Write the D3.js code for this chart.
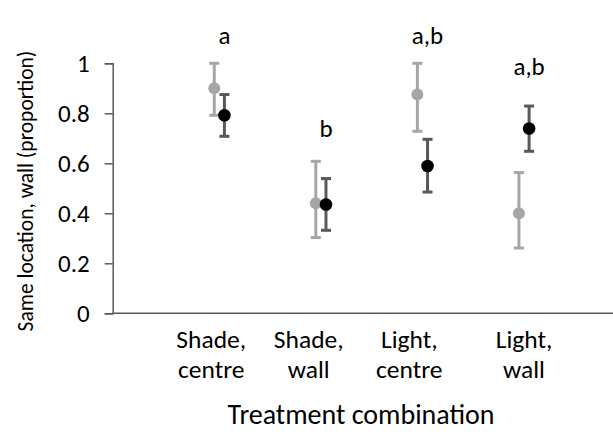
<!DOCTYPE html>
<html>
<head>
  <meta charset="utf-8">
  <script src="https://d3js.org/d3.v7.min.js"></script>
  <style type="text/css">
    body { margin: 0; background: #fff; }
    svg text {
      font-family: Calibri, Carlito, Lato, sans-serif;
      fill: #000;
    }
  </style>
</head>
<body>
  <script type="text/javascript">
    // Data
    var categories = ["Shade, centre", "Shade, wall", "Light, centre", "Light, wall"];
    var catPos = [1, 2, 3, 4];
    var labelPos = [0.97, 1.93, 2.92, 4.05];

    var greyMean  = [0.90, 0.44, 0.875, 0.40];
    var greyUpper = [1.00, 0.608, 1.00, 0.563];
    var greyLower = [0.792, 0.303, 0.728, 0.261];

    var blackMean  = [0.792, 0.435, 0.589, 0.739];
    var blackUpper = [0.875, 0.539, 0.696, 0.829];
    var blackLower = [0.708, 0.332, 0.485, 0.648];

    var letters = ["a", "b", "a,b", "a,b"];
    var letterY = [1.076, 0.704, 1.076, 0.952];

    var yTicks = [0, 0.2, 0.4, 0.6, 0.8, 1];

    var width = 613, height = 432;
    var axisColor = "#595959";

    var svg = d3.select("body").append("svg")
        .attr("width", width)
        .attr("height", height);

    var x = d3.scaleLinear().domain([0, 5]).range([112.7, 620.5]);
    var y = d3.scaleLinear().domain([0, 1]).range([313.3, 63.3]);

    // y axis
    var yAxis = d3.axisLeft(y)
        .tickValues(yTicks)
        .tickSize(8)
        .tickPadding(15)
        .tickFormat(function(d) { return d3.format("")(+d.toFixed(1)); });

    var gy = svg.append("g")
        .attr("transform", "translate(" + x(0) + ",0)")
        .call(yAxis);
    gy.select(".domain").attr("stroke", axisColor).attr("stroke-width", 1.5);
    gy.selectAll(".tick line").attr("stroke", axisColor).attr("stroke-width", 1.5);
    gy.selectAll(".tick text")
        .attr("font-size", "25px")
        .style("font-family", "Calibri, Carlito, Lato, sans-serif")
        .attr("fill", "#000");

    // x axis line
    svg.append("line")
        .attr("x1", x(0)).attr("x2", x(5))
        .attr("y1", y(0)).attr("y2", y(0))
        .attr("stroke", axisColor)
        .attr("stroke-width", 1.5);

    // category labels (two lines)
    categories.forEach(function(c, i) {
      var parts = c.split(" ");
      var t = svg.append("text")
          .attr("text-anchor", "middle")
          .attr("font-size", "25.5px");
      t.append("tspan").attr("x", x(labelPos[i])).attr("y", 348).text(parts[0]);
      t.append("tspan").attr("x", x(labelPos[i])).attr("y", 377.7).text(parts[1]);
    });

    // axis titles
    svg.append("text")
        .attr("text-anchor", "middle")
        .attr("x", 361).attr("y", 424)
        .attr("font-size", "28px")
        .text("Treatment combination");

    svg.append("text")
        .attr("text-anchor", "middle")
        .attr("transform", "translate(33,191) rotate(-90)")
        .attr("font-size", "21.5px")
        .text("Same location, wall (proportion)");

    // error bars + points
    function drawSeries(mean, lower, upper, offset, barColor, dotColor, r) {
      var g = svg.append("g");
      var capW = 5;
      mean.forEach(function(m, i) {
        var cx = x(catPos[i] + offset);
        g.append("line")
            .attr("x1", cx).attr("x2", cx)
            .attr("y1", y(lower[i])).attr("y2", y(upper[i]))
            .attr("stroke", barColor).attr("stroke-width", 3);
        [lower[i], upper[i]].forEach(function(v) {
          g.append("line")
              .attr("x1", cx - capW).attr("x2", cx + capW)
              .attr("y1", y(v)).attr("y2", y(v))
              .attr("stroke", barColor).attr("stroke-width", 3);
        });
      });
      g.selectAll("circle")
          .data(mean)
          .enter().append("circle")
          .attr("cx", function(d, i) { return x(catPos[i] + offset); })
          .attr("cy", function(d) { return y(d); })
          .attr("r", r)
          .attr("fill", dotColor);
    }

    drawSeries(greyMean, greyLower, greyUpper, 0, "#a6a6a6", "#a6a6a6", 6);
    drawSeries(blackMean, blackLower, blackUpper, 0.1, "#595959", "#000000", 6.3);

    // significance letters
    svg.selectAll(".sig")
        .data(letters)
        .enter().append("text")
        .attr("class", "sig")
        .attr("text-anchor", "middle")
        .attr("font-size", "25px")
        .attr("x", function(d, i) { return x(catPos[i] + 0.1); })
        .attr("y", function(d, i) { return y(letterY[i]); })
        .text(function(d) { return d; });
  </script>
</body>
</html>
